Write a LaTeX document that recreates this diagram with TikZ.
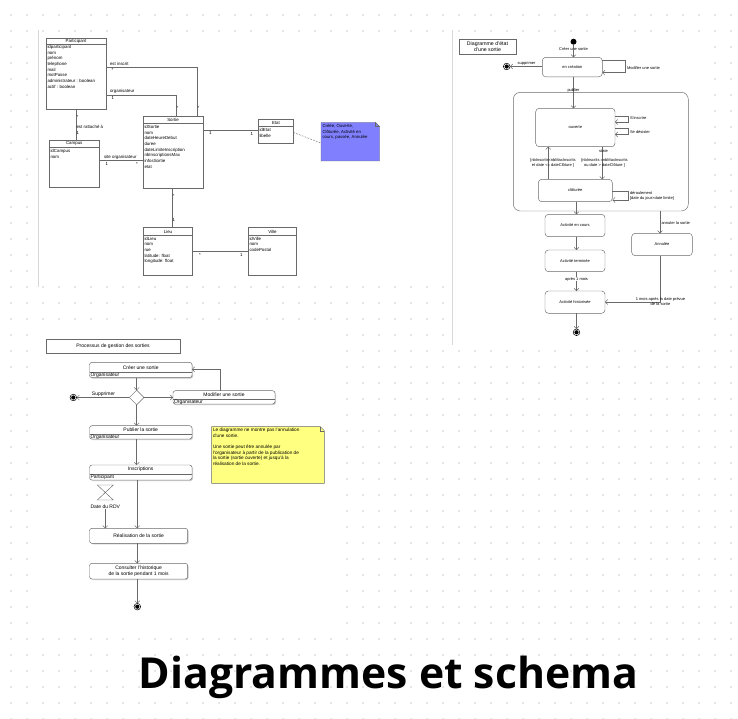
\documentclass[tikz,border=0pt]{standalone}
\usepackage{fontspec}
\setmainfont{Liberation Sans}
\newfontfamily\titlefont{Open Sans}
\usetikzlibrary{arrows.meta,calc,shapes.geometric}
\definecolor{dotc}{RGB}{204,204,216}
\definecolor{boxc}{RGB}{105,105,105}
\definecolor{shc}{RGB}{200,200,200}
\definecolor{notebl}{RGB}{128,128,255}
\definecolor{noteyl}{RGB}{255,255,128}
\definecolor{panelc}{RGB}{215,215,215}
\begin{document}
\begin{tikzpicture}[x=1pt,y=-1pt,
  every node/.style={inner sep=0pt,outer sep=0pt},
  box/.style={draw=boxc,fill=white,line width=0.45pt,anchor=north west},
  cf/.style={font=\fontsize{4.4}{5.7}\selectfont},
  ca/.style={cf,anchor=north west,align=left},
  sf/.style={font=\fontsize{4}{5}\selectfont},
  af/.style={font=\fontsize{5}{6.2}\selectfont},
  nf/.style={font=\fontsize{4.7}{5.6}\selectfont,anchor=north west,align=left},
  sbox/.style={box,rounded corners=3.5pt},
  abox/.style={box,rounded corners=2.5pt},
  ln/.style={draw=boxc,line width=0.45pt},
  arr/.style={ln,-{Straight Barb[length=2.4pt,width=5pt]}},
  inistate/.style={circle,fill=black,minimum size=6pt},
  finstate/.style={circle,draw=black,fill=white,line width=0.5pt,minimum size=6.6pt},
]
\useasboundingbox (0,0) rectangle (738,719);
\fill[white] (0,0) rectangle (738,719);
\foreach \i in {0,...,45}{\foreach \j in {0,...,44}{\fill[dotc] (11+16*\i,15+16*\j) circle (0.9pt);}}
% panels
\fill[white] (38,35) rectangle (450,283);
\fill[white] (452,35) rectangle (712,342);
\fill[white] (38,333) rectangle (335,625);
\draw[panelc,line width=0.5pt] (38,30) -- (38,287);
\draw[panelc,line width=0.5pt] (452,30) -- (452,345);

% ================= CLASS DIAGRAM =================
\node[box,minimum width=60,minimum height=71] (part) at (46,38) {};
\draw[ln] (46,44) -- (106,44);
\node[cf] at (76,41) {Participant};
\node[ca] at (47.5,45.3) {idparticipant\\nom\\prénom\\telephone\\mail\\motPasse\\administrateur : boolean\\actif : boolean};

\node[box,minimum width=49.5,minimum height=47] (campus) at (49.5,140) {};
\draw[ln] (49.5,147) -- (99,147);
\node[cf] at (74.25,143.7) {Campus};
\node[ca] at (50.5,149.5) {idCampus\\nom};

\node[box,minimum width=60,minimum height=72] (sortie) at (143,116) {};
\draw[ln] (143,123) -- (203,123);
\node[cf] at (173,119.7) {Sortie};
\node[ca] at (144.5,125.3) {idSortie\\nom\\dateHeureDebut\\duree\\dateLimiteInscription\\nbInscriptionsMax\\infosSortie\\etat};

\node[box,minimum width=35,minimum height=24] (etat) at (258.5,119.5) {};
\draw[ln] (258.5,126.5) -- (293.5,126.5);
\node[cf] at (276,123.2) {Etat};
\node[ca] at (259.5,128.7) {idEtat\\libelle};

\node[box,minimum width=49,minimum height=48] (lieu) at (143.5,227.5) {};
\draw[ln] (143.5,235) -- (192.5,235);
\node[cf] at (168,231.5) {Lieu};
\node[ca] at (144.5,237) {idLieu\\nom\\rue\\latitude: float\\longitude: float};

\node[box,minimum width=48,minimum height=48] (ville) at (248.5,227.5) {};
\draw[ln] (248.5,235) -- (296.5,235);
\node[cf] at (272.5,231.5) {Ville};
\node[ca] at (249.5,237) {idVille\\nom\\codePostal};

% blue note
\node[anchor=north west,minimum width=58.5,minimum height=38.5] (bnote) at (321,122.5) {};
\filldraw[fill=notebl,draw=boxc,line width=0.45pt] (bnote.north west) -- ($(bnote.north east)+(-4,0)$) -- ($(bnote.north east)+(0,4)$) -- (bnote.south east) -- (bnote.south west) -- cycle;
\draw[boxc,line width=0.4pt] ($(bnote.north east)+(-4,0)$) -- ($(bnote.north east)+(-4,4)$) -- ($(bnote.north east)+(0,4)$);
\node[ca,font=\fontsize{4.3}{5.4}\selectfont] at (322.5,124.5) {Créée, Ouverte,\\Clôturée, Activité en\\cours, passée, Annulée};

\coordinate (cA) at (197,67);
\coordinate (cB) at (176,95);
\coordinate (cC) at (76,0);
\coordinate (cD) at (0,160.5);
\coordinate (cE) at (0,130);
\coordinate (cF) at (172,0);
\coordinate (cG) at (0,251);
\coordinate (cH) at (0,132.5);
\coordinate (cI) at (0,143);
\draw[ln] (part.east |- cA) -- (cA) -- (cA |- sortie.north);
\draw[ln] (part.east |- cB) -- (cB) -- (cB |- sortie.north);
\draw[ln] (part.south -| cC) -- (campus.north -| cC);
\draw[ln] (campus.east |- cD) -- (sortie.west |- cD);
\draw[ln] (sortie.east |- cE) -- (etat.west |- cE);
\draw[ln] (sortie.south -| cF) -- (lieu.north -| cF);
\draw[ln] (lieu.east |- cG) -- (ville.west |- cG);
\draw[ln,dash pattern=on 1.6pt off 1.4pt] (etat.east |- cH) -- (bnote.west |- cI);

\node[cf,anchor=west] at (110,63.5) {est inscrit};
\node[cf,anchor=west] at (111.5,70) {*};
\node[cf,anchor=west] at (197.5,108) {*};
\node[cf,anchor=west] at (110,91.7) {organisateur};
\node[cf,anchor=west] at (111.5,98.3) {1};
\node[cf,anchor=west] at (176.5,108) {*};
\node[cf,anchor=west] at (76.5,117) {*};
\node[cf,anchor=west] at (76.5,126.7) {est rattaché à};
\node[cf,anchor=west] at (76.5,133.3) {1};
\node[cf,anchor=west] at (104,157.3) {site organisateur};
\node[cf,anchor=west] at (105.5,164) {1};
\node[cf,anchor=west] at (136,164) {*};
\node[cf,anchor=west] at (209,133) {1};
\node[cf,anchor=west] at (250.5,133.5) {1};
\node[cf,anchor=west] at (172.5,196) {*};
\node[cf,anchor=west] at (172.5,220) {1};
\node[cf,anchor=west] at (199,255) {*};
\node[cf,anchor=west] at (240,254.5) {1};

% ================= STATE DIAGRAM =================
\node[box,minimum width=57,minimum height=15] (stitle) at (459,39.3) {};
\node[font=\fontsize{5.2}{6}\selectfont,align=center] at (stitle.center) {Diagramme d'état\\d'une sortie};

\node[inistate] (sini) at (573.5,41.7) {};
\node[sbox,minimum width=60,minimum height=19.5] (encr) at (542.3,57.3) {};
\node[sf] at (encr.center) {en création};
\node[sf] at (573.5,49.3) {Créer une sortie};
\draw[arr] (sini) -- (sini |- encr.north);

\coordinate (m1) at (625,60);
\coordinate (m2) at (625,72.7);
\draw[arr] (encr.east |- m1) -- (m1) -- (m2) -- (encr.east |- m2);
\node[sf,anchor=west] at (627,67.7) {Modifier une sortie};

\node[finstate] (sfin1) at (506.7,66.5) {};
\fill (sfin1) circle (2.1pt);
\draw[arr] (encr.west |- sfin1) -- (sfin1.east);
\node[sf,anchor=south] at (526.5,65.3) {supprimer};

\node[sbox,rounded corners=7pt,minimum width=175,minimum height=118.7] (comp) at (513.3,92.3) {};
\node[sbox,minimum width=79.3,minimum height=38.4] (ouv) at (535.7,108.3) {};
\node[sf] at (ouv.center) {ouverte};
\coordinate (p1) at (573.5,0);
\draw[arr] (encr.south -| p1) -- (ouv.north -| p1);
\node[sf] at (573.5,90) {publier};

\node[sbox,minimum width=74,minimum height=22.4] (clo) at (538.3,179.3) {};
\node[sf] at (clo.center) {clôturée};
\coordinate (q1) at (602.3,0);
\coordinate (q2) at (548.3,0);
\draw[arr] (ouv.south -| q1) -- (clo.north -| q1);
\draw[arr] (clo.north -| q2) -- (ouv.south -| q2);
\node[sf] at (603.5,151.5) {state};
\node[sf,align=center] at (604.5,163.3) {[nbInscrits =nbMaxInscrits\\ou date > dateClôture ]};
\node[sf,align=center] at (553,163.3) {[nbInscrits<nbMaxInscrits\\et date <= dateClôture ]};

\coordinate (o1) at (628,116);
\coordinate (o2) at (628,122);
\coordinate (o3) at (628,128.5);
\coordinate (o4) at (628,134.5);
\draw[arr] (ouv.east |- o1) -- (o1) -- (o2) -- (ouv.east |- o2);
\draw[arr] (ouv.east |- o3) -- (o3) -- (o4) -- (ouv.east |- o4);
\node[sf,anchor=west] at (630,118.3) {S'inscrire};
\node[sf,anchor=west] at (630,132) {Se désister};
\coordinate (o5) at (628,191.5);
\coordinate (o6) at (628,200);
\draw[arr] (clo.east |- o5) -- (o5) -- (o6) -- (clo.east |- o6);
\node[sf,anchor=west,align=left] at (630,196.3) {déroulement\\{}[date du jour>date limite]};

\node[sbox,minimum width=60,minimum height=22.4] (enc) at (545,214.3) {};
\node[sf] at (enc.center) {Activité en cours};
\node[sbox,minimum width=60,minimum height=21.7] (term) at (545,250) {};
\node[sf] at (term.center) {Activité terminée};
\node[sbox,minimum width=60,minimum height=22.3] (hist) at (545,291) {};
\node[sf] at (hist.center) {Activité historisée};
\node[finstate] (sfin2) at (576.5,332.3) {};
\fill (sfin2) circle (2.1pt);
\coordinate (r1) at (576.5,0);
\draw[arr] (clo.south -| r1) -- (enc.north -| r1);
\draw[arr] (enc.south -| r1) -- (term.north -| r1);
\draw[arr] (term.south -| r1) -- (hist.north -| r1);
\draw[arr] (hist.south -| r1) -- (sfin2.north);
\node[sf,fill=white,inner sep=0.6pt] at (576.5,279) {après 1 mois};

\node[sbox,minimum width=60.6,minimum height=22.4] (ann) at (631.7,233.3) {};
\node[sf] at (ann.center) {Annulée};
\coordinate (a1) at (660,0);
\coordinate (a2) at (660,302);
\draw[arr] (comp.south -| a1) -- (ann.north -| a1);
\draw[arr] (ann.south -| a1) -- (a2) -- (hist.east |- a2);
\node[sf,anchor=west] at (661.5,223.3) {annuler la sortie};
\node[sf,align=center] at (660.5,301.3) {1 mois après la date prévue\\de la sortie};

% ================= ACTIVITY DIAGRAM =================
\node[box,minimum width=134,minimum height=14.3] (atitle) at (46,339) {};
\node[af] at (atitle.center) {Processus de gestion des sorties};

\fill[shc,rounded corners=2.5pt] (90.5,363.3) rectangle (193,378.7);
\node[abox,minimum width=102.5,minimum height=15.4] (creer) at (89.5,362.3) {};
\draw[ln] (89.5,372.3) -- (192,372.3);
\node[af] at (140.7,367.2) {Créer une sortie};
\node[af,anchor=west] at (90.5,375.2) {Organisateur};

\node[diamond,draw=boxc,fill=white,line width=0.45pt,minimum width=14.6,minimum height=14.6] (dec) at (136.7,397.5) {};
\draw[arr] (dec |- creer.south) -- (dec.north);

\node[finstate] (afin1) at (73.3,397.5) {};
\fill (afin1) circle (2.1pt);
\draw[arr] (dec.west) -- (afin1.east);
\node[af,anchor=south] at (103.5,396.3) {Supprimer};

\fill[shc,rounded corners=2.5pt] (173.3,391.7) rectangle (276,405);
\node[abox,minimum width=102,minimum height=13.3] (modif) at (173,390.7) {};
\draw[ln] (173,399.3) -- (275,399.3);
\node[af] at (224,394.8) {Modifier une sortie};
\node[af,anchor=west] at (174,401.9) {Organisateur};
\draw[arr] (dec.east) -- (modif.west |- dec);
\coordinate (mc) at (220,369.3);
\draw[arr] (modif.north -| mc) -- (mc) -- (creer.east |- mc);

\fill[shc,rounded corners=2.5pt] (90.5,426.7) rectangle (193,440);
\node[abox,minimum width=102.5,minimum height=13.3] (publ) at (89.5,425.7) {};
\draw[ln] (89.5,434.3) -- (192,434.3);
\node[af] at (140.7,429.8) {Publier la sortie};
\node[af,anchor=west] at (90.5,436.9) {Organisateur};
\draw[arr] (dec.south) -- (dec |- publ.north);

\fill[shc,rounded corners=2.5pt] (90.5,466) rectangle (193,481);
\node[abox,minimum width=102.5,minimum height=15] (insc) at (89.5,465) {};
\draw[ln] (89.5,474.3) -- (192,474.3);
\node[af] at (140.7,469.5) {Inscriptions};
\node[af,anchor=west] at (90.5,477.4) {Participant};
\draw[arr] (dec |- publ.south) -- (dec |- insc.north);

\node[minimum width=16,minimum height=15] (hg) at (105.3,492.5) {};
\draw[boxc,line width=0.45pt] (hg.north west) -- (hg.north east) -- (hg.south west) -- (hg.south east) -- cycle;
\node[af] (rdv) at (105.3,506.7) {Date du RDV};

\fill[shc,rounded corners=2.5pt] (90.5,529.3) rectangle (188.7,544.3);
\node[abox,minimum width=98.2,minimum height=15] (real) at (89.5,528.3) {};
\node[af] at (real.center) {Réalisation de la sortie};
\coordinate (k1) at (137.3,0);
\draw[arr] (rdv.south) -- (real.north -| rdv);
\draw[arr] (insc.south -| k1) -- (real.north -| k1);

\fill[shc,rounded corners=2.5pt] (90.5,564.3) rectangle (188.7,580);
\node[abox,minimum width=98.2,minimum height=15.7] (cons) at (89.5,563.3) {};
\node[af,align=center] at (cons.center) {Consulter l'historique\\de la sortie pendant 1 mois};
\draw[arr] (real.south -| k1) -- (cons.north -| k1);

\node[finstate] (afin2) at (137.3,606.7) {};
\fill (afin2) circle (2.1pt);
\draw[arr] (cons.south -| k1) -- (afin2.north);

% yellow note
\node[anchor=north west,minimum width=112.6,minimum height=56.6] (ynote) at (211.7,426.7) {};
\filldraw[fill=noteyl,draw=boxc,line width=0.45pt] (ynote.north west) -- ($(ynote.north east)+(-4,0)$) -- ($(ynote.north east)+(0,4)$) -- (ynote.south east) -- (ynote.south west) -- cycle;
\draw[boxc,line width=0.4pt] ($(ynote.north east)+(-4,0)$) -- ($(ynote.north east)+(-4,4)$) -- ($(ynote.north east)+(0,4)$);
\node[nf] at (213,428.3) {Le diagramme ne montre pas l'annulation\\d'une sortie.\\[5.6pt]Une sortie peut être annulée par\\l'organisateur à partir de la publication de\\la sortie (sortie ouverte) et jusqu'à la\\réalisation de la sortie.};

% ================= TITLE =================
\node[anchor=base west,font=\titlefont\bfseries\fontsize{42.7}{44}\selectfont] (title) at (138.8,688.7) {Diagrammes et schema};
\end{tikzpicture}
\end{document}
